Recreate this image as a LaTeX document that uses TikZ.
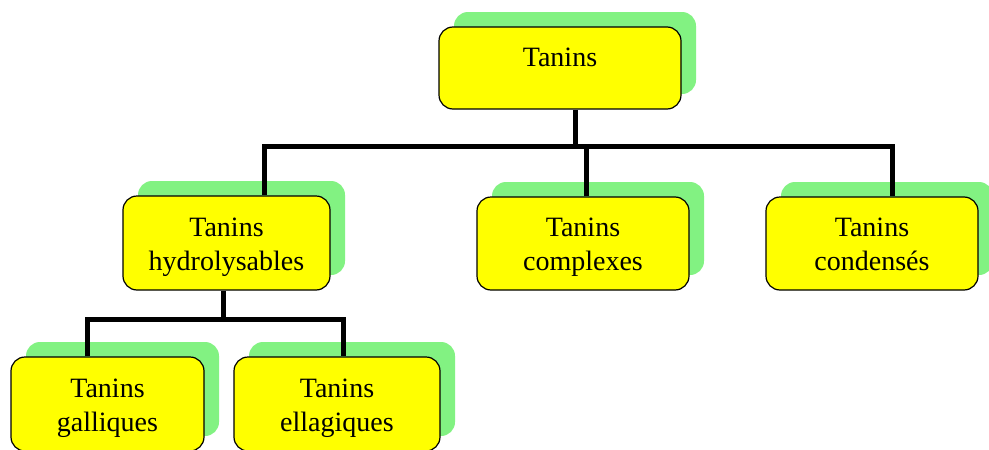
\documentclass[tikz,border=0pt]{standalone}
\usepackage{fontspec}
\setmainfont{Liberation Serif}
\usetikzlibrary{shadows}

\definecolor{tanyellow}{RGB}{255,255,0}
\definecolor{tangreen}{RGB}{130,242,130}

% struts so that every two-line box sets its text alike
\newcommand{\tanup}{\rule{0pt}{28pt}}
\newcommand{\tandown}{\rule[-8pt]{0pt}{8pt}}

\begin{document}
\begin{tikzpicture}[x=1pt, y=-1pt]

\tikzstyle{tanbox} = [draw, line width=1.2pt, fill=tanyellow, rounded corners=14pt,
  inner sep=0pt, align=center, font=\fontsize{28}{34}\selectfont,
  drop shadow={shadow xshift=15pt, shadow yshift=15pt, fill=tangreen, opacity=1}]
\tikzstyle{link} = [line width=5pt]

%Frame
\useasboundingbox (0,0) rectangle (989,450);

%Root
\node[tanbox, minimum width=242pt, minimum height=82pt, text height=19pt, text depth=23pt] (tan) at (560,68) {Tanins};

%Second level
\node[tanbox, minimum width=207pt, minimum height=94pt] (hyd) at (226.5,243) {\tanup Tanins\\hydrolysables\tandown};
\node[tanbox, minimum width=212pt, minimum height=93pt] (cpx) at (583,243.5) {\tanup Tanins\\complexes\tandown};
\node[tanbox, minimum width=212pt, minimum height=93pt] (cond) at (872,243.5) {\tanup Tanins\\condens\'es\tandown};

%Third level
\node[tanbox, minimum width=193pt, minimum height=94pt] (gal) at (107.5,404) {\tanup Tanins\\galliques\tandown};
\node[tanbox, minimum width=206pt, minimum height=94pt] (ell) at (337,404) {\tanup Tanins\\ellagiques\tandown};

%Links root
\draw[link] ([xshift=15pt]tan.south) -- ++(0,38);
\draw[link] ([xshift=37.5pt]hyd.north) -- ++(0,-49) -| ([xshift=20pt]cond.north);
\draw[link] ([xshift=3pt]cpx.north) -- ++(0,-50);

%Links hydrolysables
\draw[link] ([xshift=-3.5pt]hyd.south) -- ++(0,30);
\draw[link] ([xshift=-20.5pt]gal.north) -- ++(0,-37) -| ([xshift=6pt]ell.north);

\end{tikzpicture}
\end{document}
